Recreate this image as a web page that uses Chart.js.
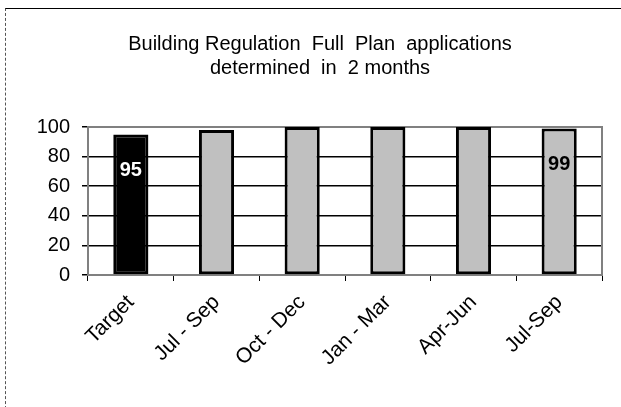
<!DOCTYPE html>
<html>
<head>
<meta charset="utf-8">
<script src="https://cdn.jsdelivr.net/npm/chart.js@4/dist/chart.umd.min.js"></script>
<style>
  html, body { margin: 0; padding: 0; background: #fff; }
  #wrap { position: relative; width: 621px; height: 407px; overflow: hidden; }
  #frame { position: absolute; left: 5px; top: 8px; width: 620px; height: 410px;
           border-top: 1px solid #000; border-left: 1px dashed #555; }
  #chart { position: absolute; left: 0; top: 0; }
</style>
</head>
<body>
<div id="wrap">
  <div id="frame"></div>
  <canvas id="chart" width="621" height="407"></canvas>
</div>
<script>
// chart data
const categories = ['Target', 'Jul - Sep', 'Oct - Dec', 'Jan - Mar', 'Apr-Jun', 'Jul-Sep']
const values = [95, 98, 100, 100, 100, 99]
const barColors = ['#000000', '#c0c0c0', '#c0c0c0', '#c0c0c0', '#c0c0c0', '#c0c0c0']
const showValue = [true, false, false, false, false, true]
const valueColors = ['#ffffff', '#000000', '#000000', '#000000', '#000000', '#000000']
const yMin = 0
const yMax = 100
const yStep = 20
const titleLines = ['Building Regulation  Full  Plan  applications', 'determined  in  2 months']

const FONT = '"Liberation Sans", Arial, Helvetica, sans-serif'

// grey frame round the plot area
const plotFrame = {
    id: 'plotFrame',
    beforeDatasetsDraw(chart) {
        const {ctx, chartArea: a} = chart
        ctx.save()
        ctx.strokeStyle = '#808080'
        ctx.lineWidth = 2
        ctx.strokeRect(a.left, a.top, a.right - a.left, a.bottom - a.top)
        ctx.restore()
    }
}

// numbers written inside the first and last bar
const valueLabels = {
    id: 'valueLabels',
    afterDatasetsDraw(chart) {
        const ctx = chart.ctx
        const meta = chart.getDatasetMeta(0)
        ctx.save()
        ctx.font = 'bold 20px ' + FONT
        ctx.textAlign = 'center'
        ctx.textBaseline = 'middle'
        meta.data.forEach((bar, i) => {
            if (!showValue[i]) return
            ctx.fillStyle = valueColors[i]
            ctx.fillText(String(values[i]), bar.x, bar.y + 36)
        })
        ctx.restore()
    }
}

Chart.defaults.font.family = FONT
Chart.defaults.color = '#000'

new Chart(document.getElementById('chart'), {
    type: 'bar',
    data: {
        labels: categories,
        datasets: [{
            data: values,
            backgroundColor: barColors,
            borderColor: '#000',
            borderWidth: 3,
            borderSkipped: false,
            categoryPercentage: 1,
            barPercentage: 0.41
        }]
    },
    options: {
        responsive: false,
        animation: false,
        layout: { padding: { left: 38, right: 19, top: 0, bottom: 0 } },
        plugins: {
            legend: { display: false },
            tooltip: { enabled: false },
            title: {
                display: true,
                text: titleLines,
                color: '#000',
                font: { size: 20, weight: 'normal', lineHeight: 1.2 },
                padding: { top: 32, bottom: 47 }
            }
        },
        scales: {
            x: {
                grid: { drawOnChartArea: false, color: '#000', tickLength: 6, offset: true },
                border: { display: false },
                ticks: { font: { size: 21 }, color: '#000', minRotation: 45, maxRotation: 45, autoSkip: false, padding: 9 },
                afterFit: s => { s.height = 132 }
            },
            y: {
                min: yMin,
                max: yMax,
                grid: {
                    color: c => (c.tick && (c.tick.value === yMin || c.tick.value === yMax)) ? 'rgba(0,0,0,0)' : '#000',
                    tickColor: '#000',
                    tickLength: 6,
                    lineWidth: 1.5
                },
                border: { display: false },
                ticks: { stepSize: yStep, font: { size: 20 }, color: '#000', padding: 12 },
                afterFit: s => { s.width = 50 }
            }
        }
    },
    plugins: [plotFrame, valueLabels]
})
</script>
</body>
</html>
